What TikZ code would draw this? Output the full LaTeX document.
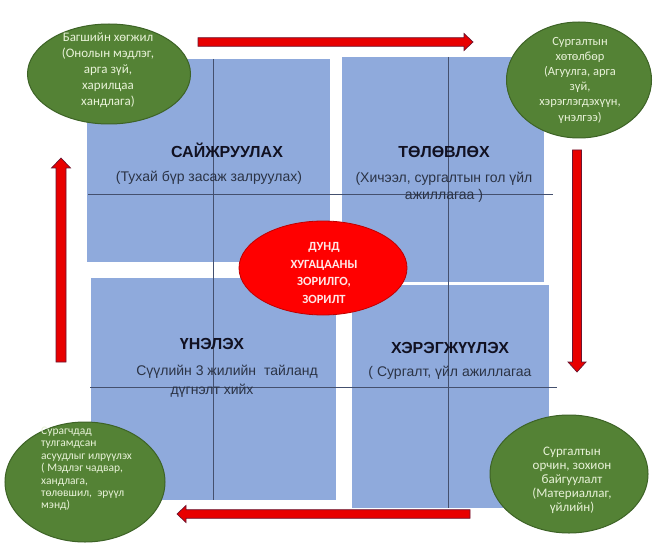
\documentclass[tikz,border=0pt]{standalone}
\usepackage{fontspec}
\setmainfont{Liberation Sans}
\newfontfamily\calib{Carlito}
\usetikzlibrary{shapes.geometric,calc}
\definecolor{sq}{HTML}{8FAADC}
\definecolor{gfill}{HTML}{548235}
\definecolor{gline}{HTML}{3D6326}
\definecolor{gtext}{HTML}{E8F2D8}
\definecolor{rfill}{HTML}{FF0000}
\definecolor{rline}{HTML}{C00000}
\definecolor{rtext}{HTML}{FFE8E8}
\definecolor{arrfill}{HTML}{E80000}
\definecolor{arrline}{HTML}{6A1530}
\definecolor{gridln}{HTML}{44506E}
\definecolor{ttl}{HTML}{111122}
\definecolor{subt}{HTML}{2B3345}
\begin{document}
\begin{tikzpicture}[x=1pt,y=-1pt,
  sqbox/.style={fill=sq,draw=none},
  gridline/.style={draw=gridln,line width=0.8pt},
  gell/.style={ellipse,fill=gfill,draw=gline,line width=1pt,inner sep=0pt},
  rell/.style={ellipse,fill=rfill,draw=rline,line width=0.8pt,inner sep=0pt},
  gtxt/.style={text=gtext,align=center,inner sep=0pt,font=\calib\fontsize{13}{16}\selectfont},
  title/.style={text=ttl,inner sep=0pt,font=\bfseries\fontsize{16}{18}\selectfont},
  subtxt/.style={text=subt,inner sep=0pt,align=center,font=\fontsize{14}{17}\selectfont},
  barrow/.style={fill=arrfill,draw=arrline,line width=0.7pt,line join=miter}
]
\useasboundingbox (0,0) rectangle (655,548);
\fill[white] (0,0) rectangle (655,548);
% squares
\path[sqbox] (87,59) rectangle (330,262);
\path[sqbox] (342,57) rectangle (544,282);
\path[sqbox] (91,278) rectangle (336,500);
\path[sqbox] (352,285) rectangle (549,508);
% grid lines
\coordinate (h1a) at (88,194); \coordinate (h1b) at (553,194);
\coordinate (h2a) at (90,387); \coordinate (h2b) at (557,387);
\coordinate (v1a) at (213,59); \coordinate (v1b) at (213,500);
\coordinate (v2a) at (448,57); \coordinate (v2b) at (448,508);
\draw[gridline] (h1a) -- (h1b);
\draw[gridline] (h2a) -- (h2b);
\draw[gridline] (v1a) -- (v1b);
\draw[gridline] (v2a) -- (v2b);
% square texts
\node[title] (t1) at (227,150) {САЙЖРУУЛАХ};
\node[subtxt] (s1) at (209,178) {(Тухай бүр засаж залруулах)};
\node[title] (t2) at (444,152) {ТӨЛӨВЛӨХ};
\node[subtxt] (s2) at (444,187) {(Хичээл, сургалтын гол үйл\\ажиллагаа )};
\node[title] (t3) at (212,344) {ҮНЭЛЭХ};
\node[subtxt] (s3) at (227,372) {Сүүлийн 3 жилийн\ \ тайланд};
\node[subtxt] (s3b) at (212,391) {дүгнэлт хийх};
\node[title] (t4) at (450,348) {ХЭРЭГЖҮҮЛЭХ};
\node[subtxt] (s4) at (450,373) {( Сургалт, үйл ажиллагаа};
% centre
\node[rell,minimum width=168pt,minimum height=94pt] (c) at (323,268) {};
\node[text=rtext,align=center,inner sep=0pt,font=\calib\bfseries\fontsize{12.5}{17.5}\selectfont] (ct) at (324,273) {ДУНД\\ХУГАЦААНЫ\\ЗОРИЛГО,\\ЗОРИЛТ};
% green ellipses
\node[gell,minimum width=163pt,minimum height=100pt] (e1) at (109,74) {};
\node[gtxt] (e1t) at (108,70) {Багшийн хөгжил\\(Онолын мэдлэг,\\арга зүй,\\харилцаа\\хандлага)};
\node[gell,minimum width=145pt,minimum height=116pt] (e2) at (579,80) {};
\node[gtxt,font=\calib\fontsize{12.5}{15.2}\selectfont] (e2t) at (580,80) {Сургалтын\\хөтөлбөр\\(Агуулга, арга\\зүй,\\хэрэглэгдэхүүн,\\үнэлгээ)};
\node[gell,minimum width=160pt,minimum height=120pt] (e3) at (85,482) {};
\node[gtxt,align=left,anchor=west,font=\calib\fontsize{11.5}{12.4}\selectfont] (e3t) at (41,469) {Сурагчдад\\тулгамдсан\\асуудлыг илрүүлэх\\ ( Мэдлэг чадвар,\\хандлага,\\төлөвшил,\ \ эрүүл\\мэнд)};
\node[gell,minimum width=158pt,minimum height=118pt] (e4) at (569,474) {};
\node[gtxt,font=\calib\fontsize{13}{14}\selectfont] (e4t) at (572,480) {Сургалтын\\орчин, зохион\\байгуулалт\\(Материаллаг,\\үйлийн)};
% block arrows
\coordinate (aT1) at (198,42); \coordinate (aT2) at (473,42);
\draw[barrow] ($(aT1)+(0,-4.3)$) -- ($(aT2)+(-9,-4.3)$) -- ($(aT2)+(-9,-8.5)$) -- (aT2)
  -- ($(aT2)+(-9,8.5)$) -- ($(aT2)+(-9,4.3)$) -- ($(aT1)+(0,4.3)$) -- cycle;
\coordinate (aR1) at (577,150); \coordinate (aR2) at (577,372);
\draw[barrow] ($(aR1)+(-4.5,0)$) -- ($(aR2)+(-4.5,-10)$) -- ($(aR2)+(-9,-10)$) -- (aR2)
  -- ($(aR2)+(9,-10)$) -- ($(aR2)+(4.5,-10)$) -- ($(aR1)+(4.5,0)$) -- cycle;
\coordinate (aB1) at (470,514); \coordinate (aB2) at (177,514);
\draw[barrow] ($(aB1)+(0,-4.3)$) -- ($(aB2)+(9,-4.3)$) -- ($(aB2)+(9,-8.5)$) -- (aB2)
  -- ($(aB2)+(9,8.5)$) -- ($(aB2)+(9,4.3)$) -- ($(aB1)+(0,4.3)$) -- cycle;
\coordinate (aL1) at (61,362); \coordinate (aL2) at (61,158);
\draw[barrow] ($(aL1)+(-5,0)$) -- ($(aL2)+(-5,10)$) -- ($(aL2)+(-9.5,10)$) -- (aL2)
  -- ($(aL2)+(9.5,10)$) -- ($(aL2)+(5,10)$) -- ($(aL1)+(5,0)$) -- cycle;
\end{tikzpicture}
\end{document}
